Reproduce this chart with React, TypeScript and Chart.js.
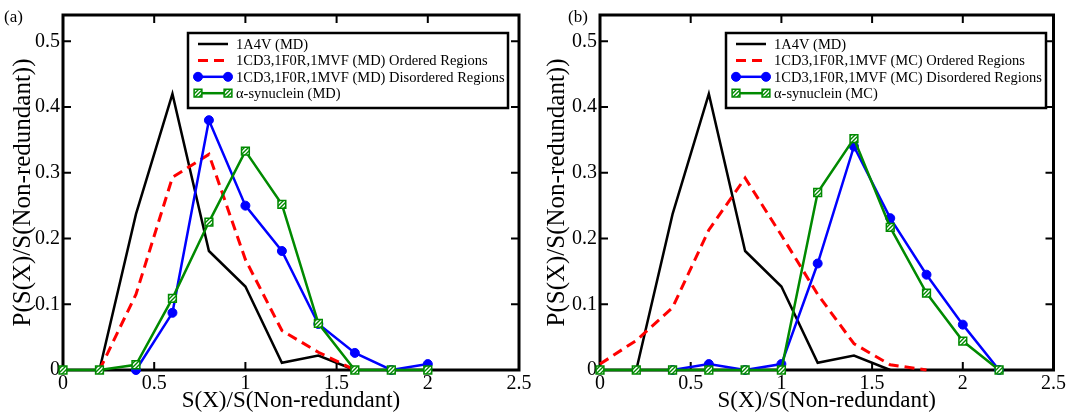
import React, { useEffect, useRef } from "react";
import { Chart, registerables } from "chart.js";

Chart.register(...registerables);

// ---------- data ----------
const bins = [0, 0.2, 0.4, 0.6, 0.8, 1.0, 1.2, 1.4, 1.6, 1.8, 2.0, 2.2];
const xTicks = [0, 0.5, 1, 1.5, 2, 2.5];
const yTicks = [0, 0.1, 0.2, 0.3, 0.4, 0.5];

// panel (a)
const blackA = [null, 0, 0.237, 0.42, 0.181, 0.127, 0.011, 0.022, 0, null, null, null];
const redA = [null, 0, 0.115, 0.293, 0.328, 0.168, 0.06, 0.027, 0, null, null, null];
const blueA = [null, null, 0, 0.087, 0.38, 0.25, 0.181, 0.07, 0.026, 0, 0.009, null];
const greenA = [0, 0, 0.008, 0.109, 0.225, 0.333, 0.252, 0.071, 0, 0, 0, null];

// panel (b)
const blackB = [null, 0, 0.237, 0.42, 0.181, 0.127, 0.011, 0.022, 0, null, null, null];
const redB = [0.009, 0.045, 0.095, 0.213, 0.292, 0.205, 0.115, 0.04, 0.008, 0, null, null];
const blueB = [null, null, 0, 0.009, 0, 0.009, 0.162, 0.34, 0.231, 0.145, 0.069, 0];
const greenB = [0, 0, 0, 0, 0, 0, 0.27, 0.352, 0.217, 0.117, 0.044, 0];

const labelsA = [
  "1A4V (MD)",
  "1CD3,1F0R,1MVF (MD) Ordered Regions",
  "1CD3,1F0R,1MVF (MD) Disordered Regions",
  "α-synuclein (MD)",
];
const labelsB = [
  "1A4V (MD)",
  "1CD3,1F0R,1MVF (MC) Ordered Regions",
  "1CD3,1F0R,1MVF (MC) Disordered Regions",
  "α-synuclein (MC)",
];
const xTitle = "S(X)/S(Non-redundant)";
const yTitle = "P(S(X)/S(Non-redundant))";

// ---------- styling ----------
const SERIF = "'Liberation Serif', 'Times New Roman', serif";
const BLACK = "#000000";
const RED = "#ff0000";
const BLUE = "#0000ff";
const GREEN = "#008a00";
const W = 534;
const H = 412;

function toPoints(vals: (number | null)[]) {
  return bins
    .map((x, i) => ({ x, y: vals[i] }))
    .filter((p) => p.y !== null) as { x: number; y: number }[];
}

function makeHatch(): CanvasPattern | string {
  const c = document.createElement("canvas");
  c.width = 4;
  c.height = 4;
  const g = c.getContext("2d");
  if (!g) return GREEN;
  g.fillStyle = "#ffffff";
  g.fillRect(0, 0, 4, 4);
  g.strokeStyle = GREEN;
  g.lineWidth = 1.4;
  g.beginPath();
  g.moveTo(0, 4);
  g.lineTo(4, 0);
  g.moveTo(-1, 1);
  g.lineTo(1, -1);
  g.moveTo(3, 5);
  g.lineTo(5, 3);
  g.stroke();
  const p = g.createPattern(c, "repeat");
  return p || GREEN;
}

type PanelCfg = {
  tag: string;
  labels: string[];
  black: (number | null)[];
  red: (number | null)[];
  blue: (number | null)[];
  green: (number | null)[];
  yAxisWidth: number;
  padRight: number;
  legendX: number;
  tagX: number;
};

const panels: PanelCfg[] = [
  {
    tag: "(a)",
    labels: labelsA,
    black: blackA,
    red: redA,
    blue: blueA,
    green: greenA,
    yAxisWidth: 63,
    padRight: 15,
    legendX: 188,
    tagX: 4,
  },
  {
    tag: "(b)",
    labels: labelsB,
    black: blackB,
    red: redB,
    blue: blueB,
    green: greenB,
    yAxisWidth: 66,
    padRight: 11,
    legendX: 192,
    tagX: 34,
  },
];

function drawMarker(ctx: CanvasRenderingContext2D, style: string, x: number, y: number, r: number, fill: any, stroke: string, bw: number) {
  ctx.save();
  ctx.setLineDash([]);
  ctx.fillStyle = fill;
  ctx.strokeStyle = stroke;
  ctx.lineWidth = bw;
  ctx.beginPath();
  if (style === "rect") {
    const s = Math.SQRT1_2 * r;
    ctx.rect(x - s, y - s, 2 * s, 2 * s);
  } else {
    ctx.arc(x, y, r, 0, Math.PI * 2);
  }
  ctx.fill();
  ctx.stroke();
  ctx.restore();
}

function Panel({ cfg }: { cfg: PanelCfg }) {
  const ref = useRef<HTMLCanvasElement | null>(null);
  useEffect(() => {
    const canvas = ref.current;
    if (!canvas) return;
    const hatch = makeHatch();

    const framePlugin = {
      id: "frameTicks",
      beforeDatasetsDraw(chart: any) {
        const { ctx, chartArea } = chart;
        const { left, right, top, bottom } = chartArea;
        const xs = chart.scales.x;
        const ys = chart.scales.y;
        ctx.save();
        ctx.strokeStyle = BLACK;
        ctx.lineWidth = 2;
        ctx.beginPath();
        for (const v of xTicks) {
          const px = xs.getPixelForValue(v);
          ctx.moveTo(px, bottom);
          ctx.lineTo(px, bottom - 8);
          ctx.moveTo(px, top);
          ctx.lineTo(px, top + 8);
        }
        for (const v of yTicks) {
          const py = ys.getPixelForValue(v);
          ctx.moveTo(left, py);
          ctx.lineTo(left + 8, py);
          ctx.moveTo(right, py);
          ctx.lineTo(right - 8, py);
        }
        ctx.stroke();
        ctx.lineWidth = 3;
        ctx.strokeRect(left, top, right - left, bottom - top);
        ctx.restore();
      },
      afterDraw(chart: any) {
        const { ctx } = chart;
        ctx.save();
        // panel tag
        ctx.fillStyle = BLACK;
        ctx.font = `17px ${SERIF}`;
        ctx.textBaseline = "alphabetic";
        ctx.textAlign = "left";
        ctx.fillText(cfg.tag, cfg.tagX, 22);
        // legend
        const bx = cfg.legendX;
        const by = 33;
        const bw = 320;
        const bh = 75;
        ctx.fillStyle = "#ffffff";
        ctx.fillRect(bx, by, bw, bh);
        ctx.lineWidth = 2.5;
        ctx.strokeStyle = BLACK;
        ctx.strokeRect(bx, by, bw, bh);
        const dsets = chart.data.datasets;
        ctx.font = `14.5px ${SERIF}`;
        ctx.textBaseline = "middle";
        for (let i = 0; i < dsets.length; i++) {
          const d = dsets[i];
          const yy = by + 11 + i * 16.4;
          const x1 = bx + 10;
          const x2 = bx + 40;
          ctx.save();
          ctx.strokeStyle = d.borderColor;
          ctx.lineWidth = d.borderWidth;
          ctx.setLineDash(d.borderDash || []);
          ctx.beginPath();
          ctx.moveTo(x1, yy);
          ctx.lineTo(x2, yy);
          ctx.stroke();
          ctx.restore();
          if (d.pointRadius > 0) {
            drawMarker(ctx, d.pointStyle, x1, yy, d.pointRadius, d.pointBackgroundColor, d.pointBorderColor, d.pointBorderWidth);
            drawMarker(ctx, d.pointStyle, x2, yy, d.pointRadius, d.pointBackgroundColor, d.pointBorderColor, d.pointBorderWidth);
          }
          ctx.fillStyle = BLACK;
          ctx.fillText(d.label, bx + 48, yy + 1);
        }
        ctx.restore();
      },
    };

    const chart = new Chart(canvas, {
      type: "line",
      data: {
        datasets: [
          {
            label: cfg.labels[0],
            data: toPoints(cfg.black),
            borderColor: BLACK,
            borderWidth: 2.5,
            pointRadius: 0,
            clip: false,
            order: 3,
          },
          {
            label: cfg.labels[1],
            data: toPoints(cfg.red),
            borderColor: RED,
            borderWidth: 3,
            borderDash: [10, 6],
            pointRadius: 0,
            clip: false,
            order: 2,
          },
          {
            label: cfg.labels[2],
            data: toPoints(cfg.blue),
            borderColor: BLUE,
            borderWidth: 2.5,
            pointRadius: 4.5,
            pointStyle: "circle",
            pointBackgroundColor: BLUE,
            pointBorderColor: BLUE,
            pointBorderWidth: 1,
            clip: false,
            order: 1,
          },
          {
            label: cfg.labels[3],
            data: toPoints(cfg.green),
            borderColor: GREEN,
            borderWidth: 2.5,
            pointRadius: 5.5,
            pointStyle: "rect",
            pointBackgroundColor: hatch as any,
            pointBorderColor: GREEN,
            pointBorderWidth: 1.5,
            clip: false,
            order: 0,
          },
        ] as any,
      },
      options: {
        animation: false,
        responsive: false,
        devicePixelRatio: 1,
        events: [],
        layout: { padding: { top: 13, right: cfg.padRight, left: 0, bottom: 0 } },
        plugins: { legend: { display: false }, tooltip: { enabled: false } },
        elements: { line: { tension: 0 } },
        scales: {
          x: {
            type: "linear",
            min: 0,
            max: 2.5,
            grid: { display: false, drawTicks: false },
            border: { display: false },
            ticks: {
              stepSize: 0.5,
              includeBounds: false,
              padding: 2,
              color: BLACK,
              font: { family: SERIF, size: 20 },
              maxRotation: 0,
              callback: (v: any) => String(Math.round(Number(v) * 10) / 10),
            },
            title: {
              display: true,
              text: xTitle,
              color: BLACK,
              font: { family: SERIF, size: 23, lineHeight: 1 },
              padding: { top: 0, bottom: 0 },
            },
            afterFit: (s: any) => {
              s.height = 42;
            },
          },
          y: {
            type: "linear",
            min: 0,
            max: 0.54,
            grid: { display: false, drawTicks: false },
            border: { display: false },
            ticks: {
              stepSize: 0.1,
              includeBounds: false,
              padding: 3,
              color: BLACK,
              font: { family: SERIF, size: 20 },
              callback: (v: any) => {
                const n = Math.round(Number(v) * 10) / 10;
                return n === 0 ? "0" : n.toFixed(1);
              },
            },
            title: {
              display: true,
              text: yTitle,
              color: BLACK,
              font: { family: SERIF, size: 25, lineHeight: 1 },
              padding: { top: 11, bottom: 0 },
            },
            afterFit: (s: any) => {
              s.width = cfg.yAxisWidth;
            },
          },
        },
      } as any,
      plugins: [framePlugin],
    });
    return () => chart.destroy();
  }, [cfg]);
  return <canvas ref={ref} width={W} height={H} style={{ display: "block", width: W, height: H }} />;
}

export default function App() {
  return (
    <div style={{ position: "absolute", left: 0, top: 0, width: 1068, height: 412, background: "#ffffff" }}>
      <div style={{ position: "absolute", left: 0, top: 0 }}>
        <Panel cfg={panels[0]} />
      </div>
      <div style={{ position: "absolute", left: W, top: 0 }}>
        <Panel cfg={panels[1]} />
      </div>
    </div>
  );
}
